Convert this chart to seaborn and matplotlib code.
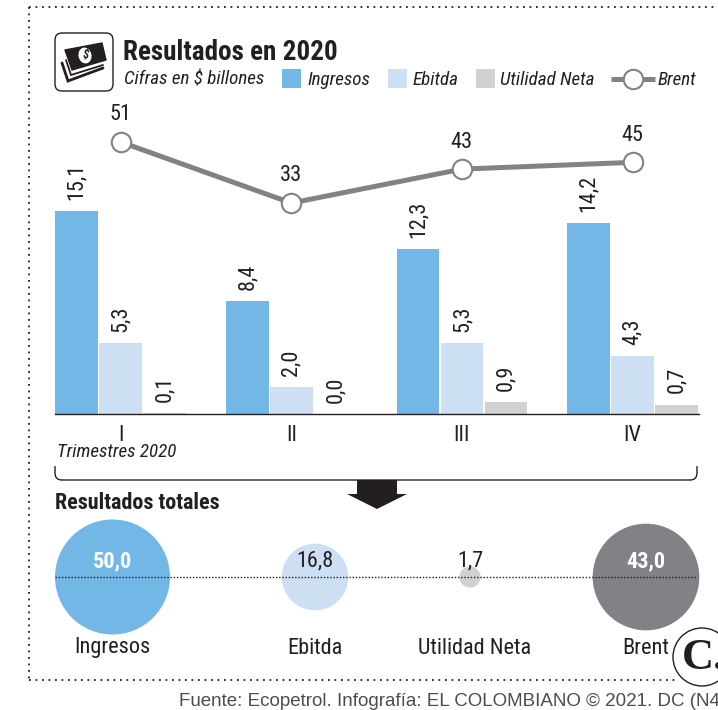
import matplotlib
matplotlib.use('Agg')
import matplotlib.pyplot as plt
import pandas as pd
import seaborn as sns
from matplotlib.patches import Circle, Ellipse, FancyBboxPatch, PathPatch, Polygon, Rectangle
from matplotlib.path import Path

quarters = ['I', 'II', 'III', 'IV']
ingresos = [15.1, 8.4, 12.3, 14.2]
ebitda = [5.3, 2.0, 5.3, 4.3]
utilidad = [0.1, 0.0, 0.9, 0.7]
brent = [51, 33, 43, 45]

total_names = ['Ingresos', 'Ebitda', 'Utilidad Neta', 'Brent']
total_values = [50.0, 16.8, 1.7, 43.0]

BLUE = '#73B7E6'
LIGHT = '#CDDFF2'
GREY = '#D0D1D3'
DARK = '#808285'
INK = '#231F20'


def comma(v):
    return f'{v:.1f}'.replace('.', ',')


sns.set_theme(style='white')
plt.rcParams['font.family'] = ['Roboto Condensed', 'DejaVu Sans']

W, H = 718, 710
fig = plt.figure(figsize=(W / 100, H / 100), dpi=100, facecolor='white')

# page axes, in pixels, for the frame, the header and the totals row
page = fig.add_axes([0, 0, 1, 1])
page.set_xlim(0, W)
page.set_ylim(H, 0)
page.axis('off')

# dotted frame, open on the right
page.plot([29, 29], [7, 680], color=INK, lw=1.3, ls=(0, (1, 2.6)))
page.plot([29, W], [7, 7], color=INK, lw=1.3, ls=(0, (1, 2.6)))
page.plot([29, 676], [680, 680], color=INK, lw=1.3, ls=(0, (1, 2.6)))

# money icon
page.add_patch(FancyBboxPatch((55, 33), 58, 58, boxstyle='round,pad=0,rounding_size=7',
                              fc='white', ec=INK, lw=1))
page.add_patch(Polygon([(65, 50), (102, 43), (106, 60), (72, 70)], fc=INK, ec=INK, lw=1, joinstyle='round'))
page.add_patch(Ellipse((85, 55.5), 13, 16, angle=-12, fc='white', ec='none'))
page.text(85, 55.5, '$', fontsize=8.5, color=INK, ha='center', va='center', rotation=-12, fontweight='bold')
page.plot([62, 68, 103], [63, 81, 68], color=INK, lw=2, solid_joinstyle='miter')
page.plot([66, 71, 103], [60, 75, 65], color=INK, lw=1.3, solid_joinstyle='miter')

page.text(123, 52, 'Resultados en 2020', fontsize=19.5, fontweight='bold', color=INK, va='center')
page.text(124, 80, 'Cifras en $ billones', fontsize=13.7, style='italic', color=INK, va='center')

# legend
for x0, colour, name, tx in [(282, BLUE, total_names[0], 307),
                             (388, LIGHT, total_names[1], 413),
                             (476, GREY, total_names[2], 500)]:
    page.add_patch(Rectangle((x0, 69), 19, 19, fc=colour, ec='none'))
    page.text(tx, 80, name, fontsize=13.7, style='italic', color=INK, va='center')
page.plot([611, 655], [79, 79], color=DARK, lw=3.6, solid_capstyle='butt', zorder=3)
page.plot([633], [79], marker='o', ms=14, mfc='white', mec=DARK, mew=1.5, zorder=4)
page.text(658, 80, total_names[3], fontsize=13.7, style='italic', color=INK, va='center')

# quarterly bars
px_unit = 170.6
ax_left, ax_right, ax_top, ax_base = 55, 699, 100, 414
ax = fig.add_axes([ax_left / W, 1 - ax_base / H, (ax_right - ax_left) / W, (ax_base - ax_top) / H])
ax.patch.set_alpha(0)

bars = pd.DataFrame({
    'trimestre': quarters * 3,
    'serie': [total_names[0]] * 4 + [total_names[1]] * 4 + [total_names[2]] * 4,
    'valor': ingresos + ebitda + utilidad,
})
sns.barplot(data=bars, x='trimestre', y='valor', hue='serie', order=quarters,
            palette=[BLUE, LIGHT, GREY], width=0.774, gap=0.03, legend=False,
            linewidth=0, saturation=1, ax=ax)
for cont, vals in zip(ax.containers, [ingresos, ebitda, utilidad]):
    ax.bar_label(cont, labels=[comma(v) for v in vals], rotation=90, padding=8,
                 fontsize=16, color=INK)

ax.set_xlim((ax_left - 120.7) / px_unit, (ax_right - 120.7) / px_unit)
ax.set_ylim(0, (ax_base - ax_top) / 13.44)
ax.set_xlabel('')
ax.set_ylabel('')
ax.set_yticks([])
ax.tick_params(axis='x', length=0, pad=8, labelsize=16, labelcolor=INK)
for side in ['top', 'left', 'right']:
    ax.spines[side].set_visible(False)
ax.spines['bottom'].set_color(INK)
ax.spines['bottom'].set_linewidth(1)

# Brent line, on its own scale
ax2 = ax.twinx()
ax2.patch.set_alpha(0)
sns.lineplot(x=list(range(4)), y=brent, color=DARK, lw=3.6, marker='o', ms=14, mfc='white',
             mec=DARK, mew=1.5, ax=ax2, legend=False, errorbar=None)
ax2.set_xlim(ax.get_xlim())
ax2.set_ylim(51 - (ax_base - 142) / 3.39, 51 + (142 - ax_top) / 3.39)
ax2.axis('off')
for i, v in enumerate(brent):
    ax2.annotate(str(v), (i, v), xytext=(0, 19.5), textcoords='offset points', ha='center',
                 va='center', fontsize=16, color=INK)

page.text(57, 452, 'Trimestres 2020', fontsize=13.7, style='italic', color=INK, va='center')

# bracket and arrow
verts = [(55, 466), (55, 473), (55, 480), (62, 480), (690, 480), (697, 480), (697, 473), (697, 466)]
codes = [Path.MOVETO, Path.LINETO, Path.CURVE3, Path.CURVE3, Path.LINETO, Path.CURVE3, Path.CURVE3, Path.LINETO]
page.add_patch(PathPatch(Path(verts, codes), fc='none', ec=INK, lw=1))
page.add_patch(Polygon([(357, 480), (397, 480), (397, 494), (407, 494), (377, 509), (347, 494), (357, 494)],
                       fc=INK, ec='none'))

page.text(55, 503, 'Resultados totales', fontsize=15.9, fontweight='bold', color=INK, va='center')

# totals row, bubble area follows the value
bubble_x = [112.5, 315, 470, 646]
bubble_y = [577] * 4
sns.scatterplot(x=bubble_x, y=bubble_y, hue=total_names, palette=[BLUE, LIGHT, GREY, DARK],
                size=total_values, size_norm=(0, 50), sizes=(0, (115 * 0.72) ** 2),
                linewidth=0, legend=False, ax=page, zorder=2)
page.set_xlim(0, W)
page.set_ylim(H, 0)
page.axis('off')
page.plot([55, 697], [577, 577], color=INK, lw=1, ls=(0, (1, 1.3)), zorder=3)

for x, v, colour, weight in zip(bubble_x, total_values, ['white', INK, INK, 'white'],
                                ['bold', 'normal', 'normal', 'bold']):
    page.text(x, 561, comma(v), fontsize=16, color=colour, fontweight=weight, ha='center', va='center', zorder=4)
for x, name in zip([112.5, 315, 475, 646], total_names):
    page.text(x, 648, name, fontsize=16, color=INK, ha='center', va='center', zorder=4)

# logo
page.add_patch(Circle((702, 657), 29, fc='white', ec=INK, lw=1, zorder=5))
page.text(682, 658, 'C.', fontsize=32, fontweight='bold', family='Liberation Serif', color=INK,
          ha='left', va='center', zorder=6)

page.text(179, 701, 'Fuente: Ecopetrol. Infografía: EL COLOMBIANO © 2021. DC (N4)', fontsize=13.5,
          family='Liberation Sans', color='#4D4D4F', va='center', clip_on=True)

fig.savefig('out.png', dpi=100)
